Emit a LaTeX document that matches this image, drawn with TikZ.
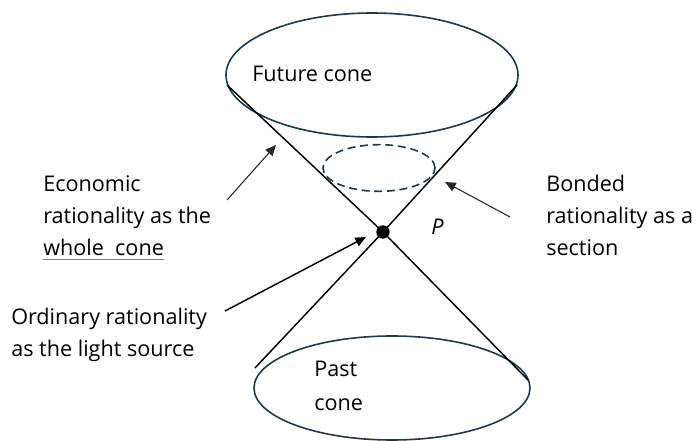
\documentclass[tikz,border=0pt]{standalone}
\usepackage{fontspec}
\setmainfont{Open Sans}
\usetikzlibrary{shapes.geometric,arrows.meta}
\definecolor{rim}{HTML}{1C3A4C}
\definecolor{linkblue}{HTML}{4A86E8}
\tikzset{
  rimline/.style={draw=rim, line width=1.2pt},
  coneline/.style={draw=black, line width=1.1pt},
  pointer/.style={draw=black!85, line width=0.8pt,
    -{Triangle[length=8pt,width=7pt]}},
  label/.style={anchor=base west, inner sep=0pt,
    font=\fontsize{16.2}{24}\selectfont},
}
\begin{document}
\begin{tikzpicture}[x=0.75pt,y=-0.75pt]
\useasboundingbox (0,0) rectangle (692,441);

% the two cones' rims
\node[ellipse, rimline, minimum width=219pt, minimum height=93pt, inner sep=0pt] (future) at (372,75) {};
\node[ellipse, rimline, minimum width=207pt, minimum height=78pt, inner sep=0pt] (past) at (392,388) {};
% section through the future cone
\node[ellipse, draw=rim, line width=1.2pt, dash pattern=on 6pt off 3.5pt,
      minimum width=84pt, minimum height=35pt, inner sep=0pt] (section) at (379,168) {};

% apex P and the generating lines
\node[circle, fill=black, minimum size=10pt, inner sep=0pt] (P) at (383,232) {};
\coordinate (tl) at (227,85);
\coordinate (tr) at (517,85);
\coordinate (bl) at (255,368);
\coordinate (br) at (528,380);
\draw[coneline] (tl) -- (P.center) -- (br);
\draw[coneline] (tr) -- (P.center) -- (bl);

% texts
\node[label] (futtxt) at (252,82) {Future cone};
\node[label] (past1) at (314,376) {Past};
\node[label] (past2) at (314,410) {cone};
\node[label, font=\fontsize{16.2}{24}\selectfont\itshape] (Plabel) at (431,235) {P};

\node[label] (eco1) at (43,192) {Economic};
\node[label] (eco2) at (43,224) {rationality as the};
\node[label] (eco3) at (43,256) {whole\ \ cone};
\draw[linkblue, line width=0.8pt] ([yshift=-2.5pt]eco3.base west) -- ([yshift=-2.5pt]eco3.base east);

\node[label] (ord1) at (11,325) {Ordinary rationality};
\node[label] (ord2) at (11,357) {as the light source};

\node[label] (bon1) at (546,192) {Bonded};
\node[label] (bon2) at (546,224) {rationality as a};
\node[label] (bon3) at (546,256) {section};

% pointers
\coordinate (ecoTail) at (227,200);
\coordinate (ecoTip) at (276,145);
\coordinate (ordTail) at (225,311);
\coordinate (ordTip) at (366,237);
\coordinate (bonTail) at (510,217);
\coordinate (bonTip) at (445,182);
\draw[pointer] (ecoTail) -- (ecoTip);
\draw[pointer, draw=black, line width=1.1pt] (ordTail) -- (ordTip);
\draw[pointer] (bonTail) -- (bonTip);
\end{tikzpicture}
\end{document}
